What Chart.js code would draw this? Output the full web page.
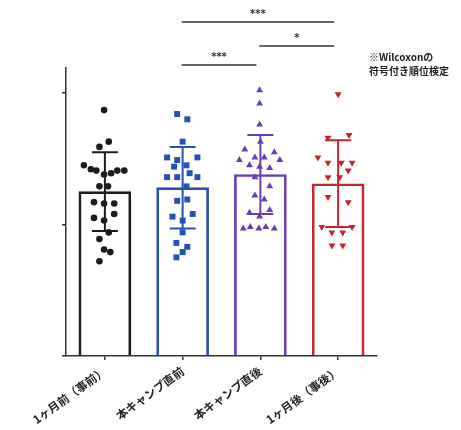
<!DOCTYPE html>
<html>
<head>
<meta charset="utf-8">
<script src="https://cdn.jsdelivr.net/npm/chart.js@4/dist/chart.umd.min.js"></script>
<style>
  body { margin: 0; background: #fff; }
  #wrap { width: 461px; height: 430px; position: relative; }
</style>
</head>
<body>
<div id="wrap"><canvas id="myChart"></canvas></div>
<script>
// groups
const labels = ["1ヶ月前（事前）", "本キャンプ直前", "本キャンプ直後", "1ヶ月後（事後）"];
const means = [1.25, 1.28, 1.38, 1.31];
const sds = [0.30, 0.31, 0.30, 0.33];
const colors = ["#1c1c1c", "#2352b4", "#6a3cb4", "#c4262c"];
const yTicks = [0, 1, 2];

// individual points: offset from group centre (in category units) and value
const preX = [-0.01, 0.05, -0.07, -0.27, -0.18, -0.11, -0.01, 0.08, 0.16, 0.25, -0.07, 0.04, -0.14, -0.01, 0.12, -0.14, -0.01, 0.12, 0.05, -0.07, -0.01, 0.07, -0.07];
const preY = [1.87, 1.63, 1.59, 1.45, 1.42, 1.41, 1.38, 1.39, 1.41, 1.41, 1.29, 1.29, 1.17, 1.16, 1.16, 1.05, 1.03, 1.08, 0.94, 0.89, 0.81, 0.79, 0.72];
const beforeX = [-0.07, 0.06, 0, -0.20, -0.07, 0.19, -0.11, 0.05, -0.20, -0.07, 0.09, 0.19, 0.05, -0.07, 0.06, -0.13, 0, 0.13, 0, -0.08, 0.06, 0, -0.08];
const beforeY = [1.84, 1.80, 1.63, 1.51, 1.49, 1.51, 1.44, 1.45, 1.36, 1.36, 1.39, 1.36, 1.29, 1.18, 1.19, 1.06, 1.03, 1.08, 0.94, 0.86, 0.83, 0.79, 0.75];
const afterX = [-0.01, -0.01, -0.01, 0, -0.20, 0.18, -0.27, -0.07, 0.05, 0.25, -0.14, -0.01, 0.12, -0.07, 0.12, -0.07, 0.05, -0.14, 0.12, -0.01, -0.22, -0.13, -0.02, 0.07, 0.18];
const afterY = [2.02, 1.92, 1.76, 1.63, 1.57, 1.55, 1.49, 1.51, 1.51, 1.49, 1.45, 1.44, 1.43, 1.36, 1.29, 1.22, 1.19, 1.09, 1.11, 1.06, 0.97, 0.98, 0.97, 0.98, 0.97];
const postX = [0, -0.13, 0.14, -0.26, -0.13, 0.04, 0.18, 0.13, -0.13, 0.02, -0.13, 0.13, -0.21, 0.18, -0.08, 0.06, -0.08, 0.06];
const postY = [1.99, 1.66, 1.68, 1.51, 1.47, 1.47, 1.47, 1.41, 1.36, 1.36, 1.21, 1.17, 0.98, 0.98, 0.94, 0.94, 0.84, 0.84];

// significance brackets: [from, to, text]
const brackets = [[1, 3, "***"], [2, 3, "*"], [1, 2, "***"]];
const bracketY = [22, 46, 65];
const noteLines = ["※Wilcoxonの", "符号付き順位検定"];

const toPoints = (xs, ys, g) => ys.map((v, i) => ({ x: g + xs[i], y: v }));

const pointSet = (xs, ys, g, style, r, rot) => ({
  type: "scatter",
  data: toPoints(xs, ys, g),
  pointStyle: style,
  pointRadius: r,
  rotation: rot || 0,
  backgroundColor: colors[g],
  borderColor: colors[g],
  borderWidth: 0,
  order: 0
});

const extras = {
  id: "extras",
  afterDatasetsDraw(chart) {
    const ctx = chart.ctx;
    const x = chart.scales.x;
    const y = chart.scales.y;
    ctx.save();
    // error bars
    means.forEach((m, i) => {
      const cx = x.getPixelForValue(i);
      const top = y.getPixelForValue(m + sds[i]);
      const bot = y.getPixelForValue(m - sds[i]);
      ctx.strokeStyle = colors[i];
      ctx.lineWidth = 2;
      ctx.beginPath();
      ctx.moveTo(cx, top); ctx.lineTo(cx, bot);
      ctx.moveTo(cx - 13, top); ctx.lineTo(cx + 13, top);
      ctx.moveTo(cx - 13, bot); ctx.lineTo(cx + 13, bot);
      ctx.stroke();
    });
    // brackets
    ctx.strokeStyle = "#333";
    ctx.fillStyle = "#333";
    ctx.lineWidth = 1.5;
    ctx.font = "bold 10px 'DejaVu Sans'";
    ctx.textAlign = "center";
    ctx.textBaseline = "bottom";
    brackets.forEach((b, i) => {
      const x1 = x.getPixelForValue(b[0]) - 1;
      const x2 = x.getPixelForValue(b[1]) - 4;
      ctx.beginPath();
      ctx.moveTo(x1, bracketY[i]); ctx.lineTo(x2, bracketY[i]);
      ctx.stroke();
      ctx.fillText(b[2], (x1 + x2) / 2, bracketY[i] - 3);
    });
    // note
    ctx.fillStyle = "#222";
    ctx.textAlign = "left";
    ctx.textBaseline = "middle";
    ctx.font = "bold 10px 'Noto Sans CJK JP'";
    noteLines.forEach((t, i) => ctx.fillText(t, 369, 57 + i * 14));
    ctx.restore();
  }
};

const ctx = document.getElementById("myChart");
new Chart(ctx, {
  type: "bar",
  data: {
    datasets: [
      {
        data: means.map((m, i) => ({ x: i, y: m })),
        backgroundColor: "rgba(255,255,255,0)",
        borderColor: colors,
        borderWidth: 2,
        barThickness: 52,
        grouped: false,
        order: 1
      },
      pointSet(preX, preY, 0, "circle", 3.3),
      pointSet(beforeX, beforeY, 1, "rect", 4.2),
      pointSet(afterX, afterY, 2, "triangle", 4),
      pointSet(postX, postY, 3, "triangle", 4, 180)
    ]
  },
  options: {
    responsive: true,
    maintainAspectRatio: false,
    animation: false,
    layout: { padding: { top: 68, right: 84, left: 0, bottom: 0 } },
    plugins: { legend: { display: false }, tooltip: { enabled: false } },
    scales: {
      x: {
        type: "linear",
        min: -0.5, max: 3.5,
        offset: false,
        afterBuildTicks(s) { s.ticks = labels.map((l, i) => ({ value: i })); },
        grid: { display: true, offset: false, drawOnChartArea: false, tickLength: 4, color: "#333", lineWidth: 1.5 },
        border: { color: "#333", width: 1.5 },
        ticks: {
          callback: (v) => labels[v],
          minRotation: 36, maxRotation: 36, padding: 4,
          color: "#222",
          font: { family: "'Noto Sans CJK JP'", size: 11.5, weight: "bold" }
        },
        afterFit(s) { s.height = 74; }
      },
      y: {
        min: 0, max: 2.19,
        grid: { display: true, drawOnChartArea: false, tickLength: 4, color: "#333", lineWidth: 1.5 },
        border: { color: "#333", width: 1.5 },
        ticks: { display: false },
        afterBuildTicks(s) { s.ticks = yTicks.map(v => ({ value: v })); },
        afterFit(s) { s.width = 66; }
      }
    }
  },
  plugins: [extras]
});
</script>
</body>
</html>
